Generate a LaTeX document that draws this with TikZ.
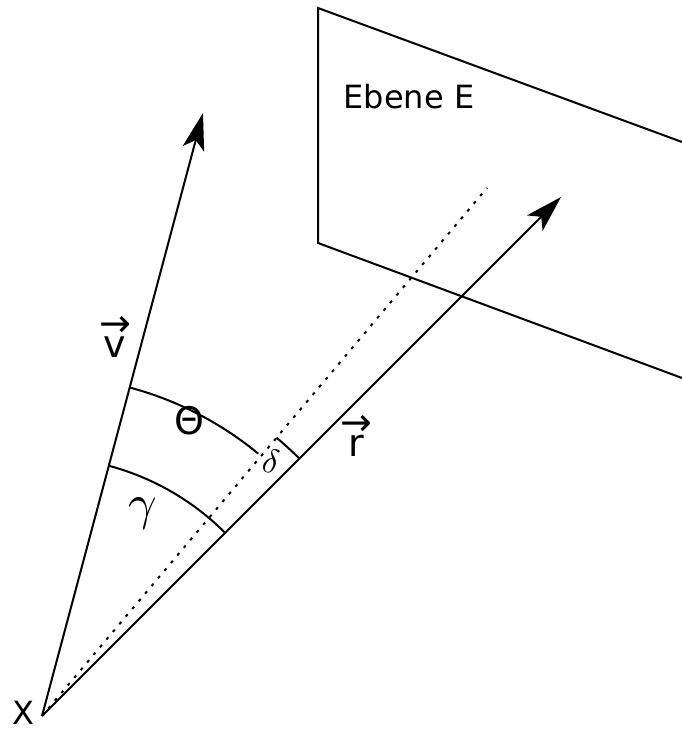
\documentclass[tikz,border=0pt]{standalone}
\usepackage{fontspec}
\setmainfont{DejaVu Sans}
\DeclareFontShape{OML}{cmm}{m}{it}{<->cmmi10}{}
\usetikzlibrary{arrows.meta}
\newcommand\withvecarrow[1]{\ooalign{\hfil#1\hfil\cr\hfil\raisebox{0.55em}{→}\hfil\cr}}
\begin{document}
\begin{tikzpicture}[x=1pt,y=1pt,line width=2pt,
  vecline/.style={-{Stealth[length=37pt,width=22pt,inset=9pt]}},
  dotline/.style={line width=2pt,dash pattern=on 3pt off 7pt},
  txt/.style={inner sep=0pt,font=\fontsize{32}{36}\selectfont},
  vtxt/.style={inner sep=0pt,font=\fontsize{38}{42}\selectfont},
  gtxt/.style={inner sep=0pt,font=\fontsize{50}{54}\selectfont},
  dtxt/.style={inner sep=0pt,font=\fontsize{34}{38}\selectfont}]
\useasboundingbox (0,0) rectangle (682,731);
% points
\coordinate (O) at (42,15);
\coordinate (V) at (203,618);
\coordinate (R) at (561,534);
\coordinate (D) at (487,543);
\coordinate (P1) at (318,723);
\coordinate (P2) at (682,589);
\coordinate (P3) at (682,353);
\coordinate (P4) at (318,488);
% plane
\draw (P2) -- (P1) -- (P4) -- (P3);
% vectors
\draw[vecline] (O) -- (V);
\draw[vecline] (O) -- (R);
\draw[dotline] (O) -- (D);
% arcs
\draw ([shift={(75.05:340)}]O) arc[start angle=75.05,end angle=50.5,radius=340];
\draw ([shift={(75.05:259)}]O) arc[start angle=75.05,end angle=45,radius=259];
\draw ([shift={(49.9:364)}]O) arc[start angle=49.9,end angle=45,radius=364];
% labels
\node[txt] (ebene) at (409,634) {Ebene E};
\node[vtxt] (vl) at (115,384) {\withvecarrow{v}};
\node[vtxt] (rl) at (356,285) {\withvecarrow{r}};
\node[vtxt] (theta) at (189,310) {Θ};
\node[gtxt] (gamma) at (143,217) {$\gamma$};
\node[dtxt,rotate=-10] (delta) at (271,270) {$\delta$};
\node[txt] (x) at (23,18) {X};
\end{tikzpicture}
\end{document}
